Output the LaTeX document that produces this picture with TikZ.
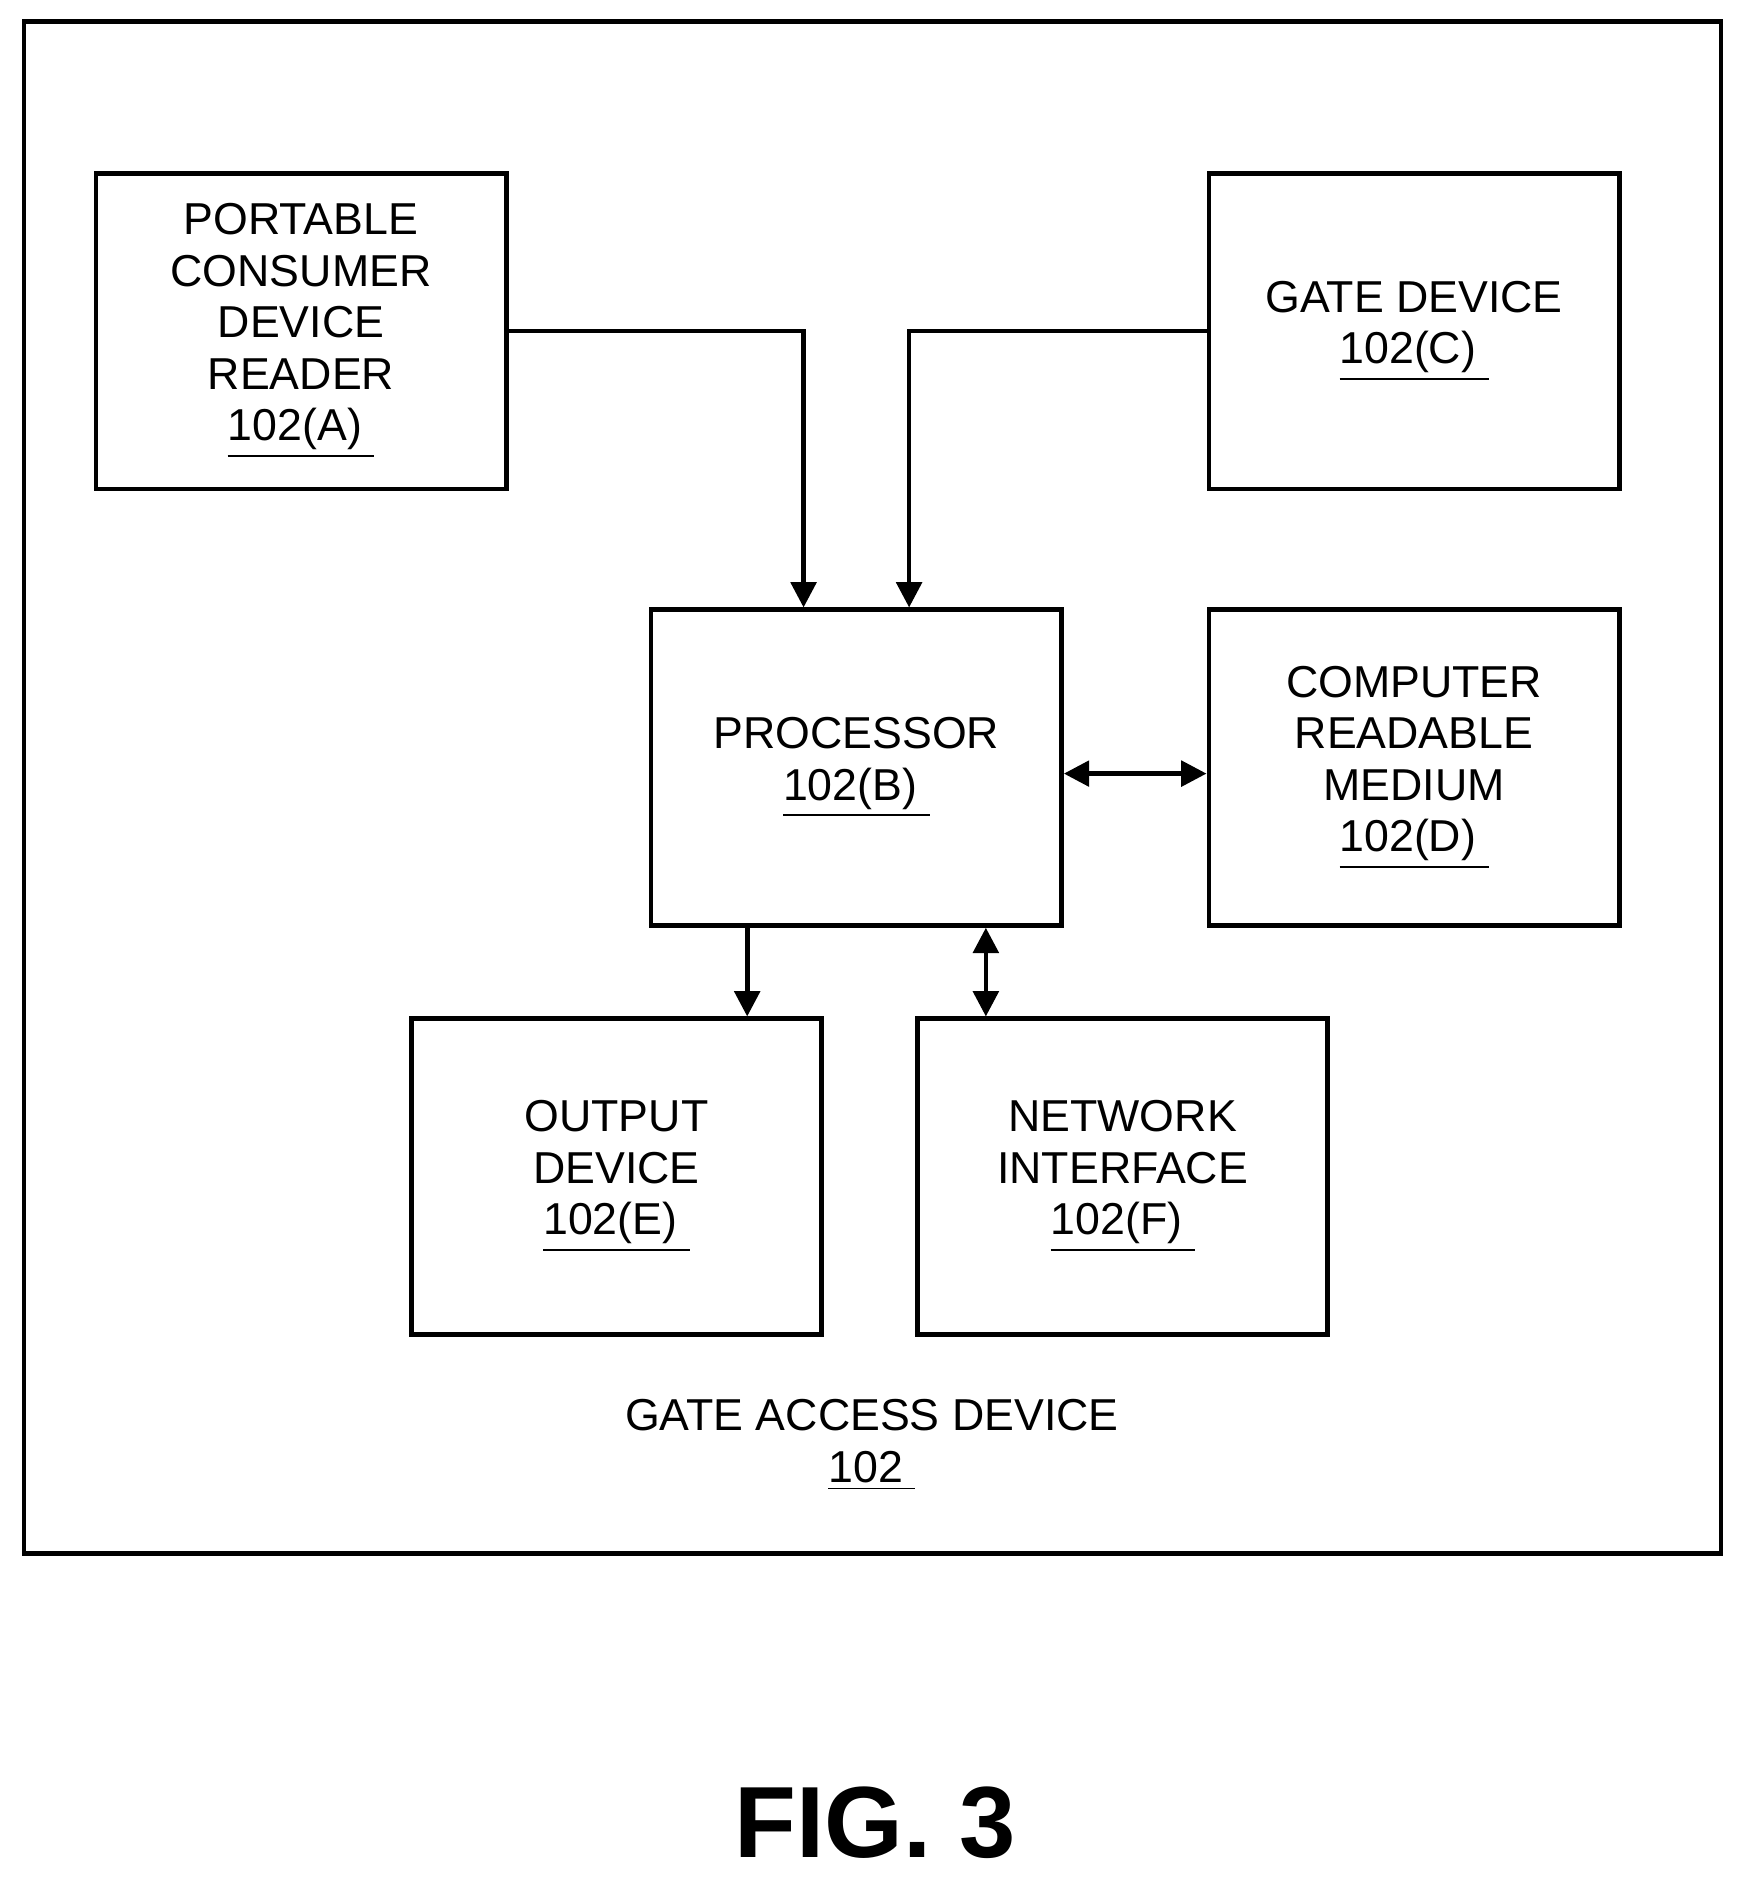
\documentclass[tikz,border=0pt]{standalone}
\usepackage{fontspec}
\setmainfont{Liberation Sans}
\usetikzlibrary{arrows.meta}

\begin{document}
\begin{tikzpicture}[x=0.01cm, y=-0.01cm,
    every node/.style={align=center, font=\fontsize{10.6}{12.2}\selectfont},
    blk/.style={draw, line width=1.1pt, minimum width=3.42cm, minimum height=2.63cm, inner sep=0pt},
    conn/.style={line width=1.1pt, -{Triangle[length=6pt, width=6pt]}},
    both/.style={line width=1.1pt, {Triangle[length=6pt, width=6pt]}-{Triangle[length=6pt, width=6pt]}}]
  \useasboundingbox (0,0) rectangle (1450,1565);
  \draw[line width=1.1pt] (20,18) rectangle (1435,1295);

  \node[blk] (pcdr) at (251,276) {PORTABLE\\CONSUMER\\DEVICE\\READER\\\underline{102(A)\ }};
  \node[blk] (gate) at (1179,276) {GATE DEVICE\\\underline{102(C)\ }};
  \node[blk] (proc) at (714,640) {PROCESSOR\\\underline{102(B)\ }};
  \node[blk] (crm) at (1179,640) {COMPUTER\\READABLE\\MEDIUM\\\underline{102(D)\ }};
  \node[blk] (out) at (514,981) {OUTPUT\\DEVICE\\\underline{102(E)\ }};
  \node[blk] (net) at (936,981) {NETWORK\\INTERFACE\\\underline{102(F)\ }};
  \node[draw=none] (gad) at (727,1205) {GATE ACCESS DEVICE\\\underline{102\ }};
  \node[draw=none, font=\fontsize{24}{28}\selectfont\bfseries] (fig) at (730,1520) {FIG. 3};

  \coordinate (a1) at (670,276);
  \coordinate (c1) at (758,276);
  \draw[conn] (pcdr.east |- a1) -| (proc.north -| a1);
  \draw[conn] (gate.west |- c1) -| (proc.north -| c1);
  \draw[both] (proc.east |- 0,645) -- (crm.west |- 0,645);
  \draw[conn] (proc.south -| 623,0) -- (out.north -| 623,0);
  \draw[both] (proc.south -| 822,0) -- (net.north -| 822,0);
\end{tikzpicture}
\end{document}
